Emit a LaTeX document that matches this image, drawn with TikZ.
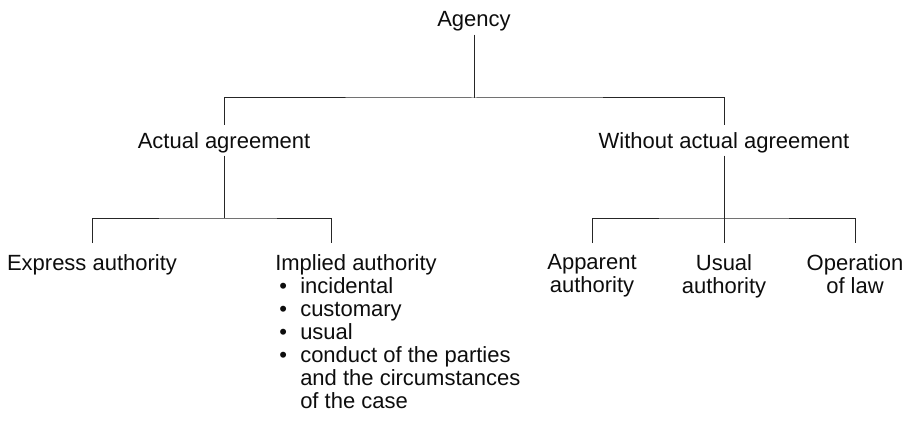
\documentclass[tikz,border=0pt]{standalone}
\usepackage{fontspec}
\setmainfont{Liberation Sans}
\newcommand{\lbul}{\hspace*{3pt}\makebox[15.75pt][l]{•}}
\newcommand{\lind}{\hspace*{18.75pt}}
\begin{document}
\begin{tikzpicture}[x=0.75pt,y=-0.75pt,
  every node/.style={font=\fontsize{16.5}{17.25}\selectfont, text=black!95},
  head/.style={inner sep=0pt, text height=17.25pt, text depth=5.5pt, anchor=base},
  leaf/.style={inner xsep=0pt, inner ysep=8.5pt, anchor=north, align=center},
  link/.style={draw=black!85, line width=0.75pt}]
\useasboundingbox (0,0) rectangle (908,428);
% first and second level
\node[head] (agency) at (474,27) {Agency};
\node[head] (actual) at (224,148) {Actual agreement};
\node[head] (without) at (724,148) {Without actual agreement};
% leaves
\node[leaf] (express) at (92,243) {Express authority};
\node[leaf, anchor=north west, align=left] (implied) at (275,243) {Implied authority\\
  \lbul incidental\\
  \lbul customary\\
  \lbul usual\\
  \lbul conduct of the parties\\
  \lind and the circumstances\\
  \lind of the case};
\node[leaf] (apparent) at (592,243) {Apparent\\authority};
\node[leaf] (usual) at (724,243) {Usual\\authority};
\node[leaf] (operation) at (855,243) {Operation\\of law};
% junctions
\coordinate (j0) at (474,98);
\coordinate (j1) at (224,218);
\coordinate (j2) at (724,218);
% connectors
\draw[link] (agency) -- (j0);
\draw[link] (actual) |- (j0) -| (without);
\draw[link] (actual) -- (j1);
\draw[link] (express) |- (j1) -| ([xshift=42pt]implied.north west);
\draw[link] (without) -- (usual);
\draw[link] (apparent) |- (j2) -| (operation);
\end{tikzpicture}
\end{document}
